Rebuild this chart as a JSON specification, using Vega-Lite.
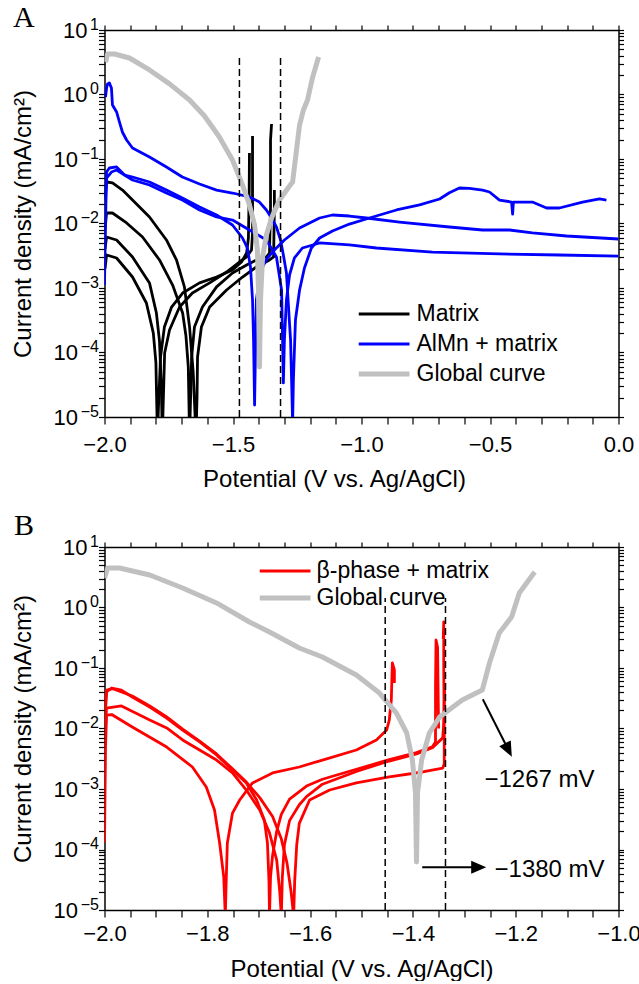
{
"$schema": "https://vega.github.io/schema/vega-lite/v6.json",
"background": "white",
"padding": {"left": 10.5, "top": 3, "right": 3, "bottom": 0},
"config": {
  "view": {"stroke": null},
  "font": "Liberation Sans",
  "axis": {"domainColor": "black", "domainWidth": 1.5, "tickColor": "black", "tickWidth": 1.2, "labelColor": "black", "labelFont": "Liberation Sans", "labelFontSize": 22, "titleFont": "Liberation Sans", "titleFontSize": 24, "titleFontWeight": "normal", "titleColor": "black", "grid": false, "labelFlush": false, "labelOverlap": false, "labelBound": false},
  "legend": {"labelFont": "Liberation Sans", "labelFontSize": 23, "labelColor": "black", "labelLimit": 300},
  "title": {"font": "Liberation Serif", "fontSize": 30, "fontWeight": "normal", "anchor": "start", "frame": "bounds", "color": "black"}
},
"datasets": {
"A_lines": [
{"s":"Matrix","c":"m1","i":0,"E":-1.998,"I":0.025},{"s":"Matrix","c":"m1","i":1,"E":-1.992,"I":0.044},{"s":"Matrix","c":"m1","i":2,"E":-1.969,"I":0.0425},{"s":"Matrix","c":"m1","i":3,"E":-1.93,"I":0.033},{"s":"Matrix","c":"m1","i":4,"E":-1.891,"I":0.0231},{"s":"Matrix","c":"m1","i":5,"E":-1.825,"I":0.01262},{"s":"Matrix","c":"m1","i":6,"E":-1.759,"I":0.00555},{"s":"Matrix","c":"m1","i":7,"E":-1.72,"I":0.00272},{"s":"Matrix","c":"m1","i":8,"E":-1.689,"I":0.00104},{"s":"Matrix","c":"m1","i":9,"E":-1.669,"I":0.000248},{"s":"Matrix","c":"m1","i":10,"E":-1.655,"I":0.00005},{"s":"Matrix","c":"m1","i":11,"E":-1.644,"I":0.000005},{"s":"Matrix","c":"m1","i":12,"E":-1.64,"I":0.00002},{"s":"Matrix","c":"m1","i":13,"E":-1.638,"I":0.000085},{"s":"Matrix","c":"m1","i":14,"E":-1.623,"I":0.000248},{"s":"Matrix","c":"m1","i":15,"E":-1.591,"I":0.000507},{"s":"Matrix","c":"m1","i":16,"E":-1.525,"I":0.00093},{"s":"Matrix","c":"m1","i":17,"E":-1.463,"I":0.00148},{"s":"Matrix","c":"m1","i":18,"E":-1.409,"I":0.00212},{"s":"Matrix","c":"m1","i":19,"E":-1.358,"I":0.00272},{"s":"Matrix","c":"m1","i":20,"E":-1.342,"I":0.00303},{"s":"Matrix","c":"m1","i":21,"E":-1.339,"I":0.018},{"s":"Matrix","c":"m1","i":22,"E":-1.339,"I":0.033},
{"s":"Matrix","c":"m2","i":0,"E":-1.998,"I":0.008},{"s":"Matrix","c":"m2","i":1,"E":-1.992,"I":0.01455},{"s":"Matrix","c":"m2","i":2,"E":-1.969,"I":0.01455},{"s":"Matrix","c":"m2","i":3,"E":-1.914,"I":0.01019},{"s":"Matrix","c":"m2","i":4,"E":-1.852,"I":0.00618},{"s":"Matrix","c":"m2","i":5,"E":-1.786,"I":0.00272},{"s":"Matrix","c":"m2","i":6,"E":-1.735,"I":0.00111},{"s":"Matrix","c":"m2","i":7,"E":-1.696,"I":0.000409},{"s":"Matrix","c":"m2","i":8,"E":-1.683,"I":0.00018},{"s":"Matrix","c":"m2","i":9,"E":-1.674,"I":0.00006},{"s":"Matrix","c":"m2","i":10,"E":-1.669,"I":0.000005},{"s":"Matrix","c":"m2","i":11,"E":-1.665,"I":0.00002},{"s":"Matrix","c":"m2","i":12,"E":-1.661,"I":0.000085},{"s":"Matrix","c":"m2","i":13,"E":-1.65,"I":0.000248},{"s":"Matrix","c":"m2","i":14,"E":-1.619,"I":0.000507},{"s":"Matrix","c":"m2","i":15,"E":-1.564,"I":0.00104},{"s":"Matrix","c":"m2","i":16,"E":-1.502,"I":0.00171},{"s":"Matrix","c":"m2","i":17,"E":-1.447,"I":0.00228},{"s":"Matrix","c":"m2","i":18,"E":-1.409,"I":0.00272},{"s":"Matrix","c":"m2","i":19,"E":-1.37,"I":0.00303},{"s":"Matrix","c":"m2","i":20,"E":-1.358,"I":0.00349},{"s":"Matrix","c":"m2","i":21,"E":-1.354,"I":0.018},{"s":"Matrix","c":"m2","i":22,"E":-1.354,"I":0.197},{"s":"Matrix","c":"m2","i":23,"E":-1.35,"I":0.349},
{"s":"Matrix","c":"m3","i":0,"E":-1.998,"I":0.004},{"s":"Matrix","c":"m3","i":1,"E":-1.992,"I":0.00618},{"s":"Matrix","c":"m3","i":2,"E":-1.953,"I":0.00555},{"s":"Matrix","c":"m3","i":3,"E":-1.891,"I":0.00303},{"s":"Matrix","c":"m3","i":4,"E":-1.825,"I":0.0012},{"s":"Matrix","c":"m3","i":5,"E":-1.798,"I":0.000409},{"s":"Matrix","c":"m3","i":6,"E":-1.786,"I":0.00015},{"s":"Matrix","c":"m3","i":7,"E":-1.779,"I":0.00003},{"s":"Matrix","c":"m3","i":8,"E":-1.775,"I":0.000005},{"s":"Matrix","c":"m3","i":9,"E":-1.772,"I":0.000014},{"s":"Matrix","c":"m3","i":10,"E":-1.766,"I":0.000098},{"s":"Matrix","c":"m3","i":11,"E":-1.747,"I":0.000223},{"s":"Matrix","c":"m3","i":12,"E":-1.708,"I":0.000507},{"s":"Matrix","c":"m3","i":13,"E":-1.658,"I":0.000836},{"s":"Matrix","c":"m3","i":14,"E":-1.591,"I":0.0012},{"s":"Matrix","c":"m3","i":15,"E":-1.525,"I":0.00177},{"s":"Matrix","c":"m3","i":16,"E":-1.475,"I":0.00253},{"s":"Matrix","c":"m3","i":17,"E":-1.447,"I":0.00303},{"s":"Matrix","c":"m3","i":18,"E":-1.428,"I":0.00388},{"s":"Matrix","c":"m3","i":19,"E":-1.424,"I":0.00713},{"s":"Matrix","c":"m3","i":20,"E":-1.424,"I":0.1},{"s":"Matrix","c":"m3","i":21,"E":-1.424,"I":0.228},
{"s":"Matrix","c":"m4","i":0,"E":-1.998,"I":0.002},{"s":"Matrix","c":"m4","i":1,"E":-1.992,"I":0.00325},{"s":"Matrix","c":"m4","i":2,"E":-1.953,"I":0.00292},{"s":"Matrix","c":"m4","i":3,"E":-1.891,"I":0.00148},{"s":"Matrix","c":"m4","i":4,"E":-1.837,"I":0.000585},{"s":"Matrix","c":"m4","i":5,"E":-1.81,"I":0.0002},{"s":"Matrix","c":"m4","i":6,"E":-1.8,"I":0.00007},{"s":"Matrix","c":"m4","i":7,"E":-1.794,"I":0.000005},{"s":"Matrix","c":"m4","i":8,"E":-1.79,"I":0.0000143},{"s":"Matrix","c":"m4","i":9,"E":-1.782,"I":0.000085},{"s":"Matrix","c":"m4","i":10,"E":-1.767,"I":0.000248},{"s":"Matrix","c":"m4","i":11,"E":-1.739,"I":0.000507},{"s":"Matrix","c":"m4","i":12,"E":-1.696,"I":0.000836},{"s":"Matrix","c":"m4","i":13,"E":-1.63,"I":0.0012},{"s":"Matrix","c":"m4","i":14,"E":-1.564,"I":0.00148},{"s":"Matrix","c":"m4","i":15,"E":-1.502,"I":0.0019},{"s":"Matrix","c":"m4","i":16,"E":-1.467,"I":0.00253},{"s":"Matrix","c":"m4","i":17,"E":-1.447,"I":0.00349},{"s":"Matrix","c":"m4","i":18,"E":-1.44,"I":0.006},{"s":"Matrix","c":"m4","i":19,"E":-1.437,"I":0.03},{"s":"Matrix","c":"m4","i":20,"E":-1.436,"I":0.124},
{"s":"AlMn + matrix","c":"a1","i":0,"E":-1.996,"I":0.914},{"s":"AlMn + matrix","c":"a1","i":1,"E":-1.992,"I":1.26},{"s":"AlMn + matrix","c":"a1","i":2,"E":-1.988,"I":1.46},{"s":"AlMn + matrix","c":"a1","i":3,"E":-1.981,"I":1.51},{"s":"AlMn + matrix","c":"a1","i":4,"E":-1.973,"I":1.26},{"s":"AlMn + matrix","c":"a1","i":5,"E":-1.969,"I":0.687},{"s":"AlMn + matrix","c":"a1","i":6,"E":-1.953,"I":0.536},{"s":"AlMn + matrix","c":"a1","i":7,"E":-1.942,"I":0.375},{"s":"AlMn + matrix","c":"a1","i":8,"E":-1.93,"I":0.26},{"s":"AlMn + matrix","c":"a1","i":9,"E":-1.914,"I":0.197},{"s":"AlMn + matrix","c":"a1","i":10,"E":-1.891,"I":0.148},{"s":"AlMn + matrix","c":"a1","i":11,"E":-1.825,"I":0.1074},{"s":"AlMn + matrix","c":"a1","i":12,"E":-1.759,"I":0.0752},{"s":"AlMn + matrix","c":"a1","i":13,"E":-1.697,"I":0.0526},{"s":"AlMn + matrix","c":"a1","i":14,"E":-1.63,"I":0.0409},{"s":"AlMn + matrix","c":"a1","i":15,"E":-1.564,"I":0.033},{"s":"AlMn + matrix","c":"a1","i":16,"E":-1.502,"I":0.0297},{"s":"AlMn + matrix","c":"a1","i":17,"E":-1.436,"I":0.0258},{"s":"AlMn + matrix","c":"a1","i":18,"E":-1.397,"I":0.0215},{"s":"AlMn + matrix","c":"a1","i":19,"E":-1.37,"I":0.0162},{"s":"AlMn + matrix","c":"a1","i":20,"E":-1.35,"I":0.01217},{"s":"AlMn + matrix","c":"a1","i":21,"E":-1.331,"I":0.00883},{"s":"AlMn + matrix","c":"a1","i":22,"E":-1.315,"I":0.00555},{"s":"AlMn + matrix","c":"a1","i":23,"E":-1.304,"I":0.00325},{"s":"AlMn + matrix","c":"a1","i":24,"E":-1.292,"I":0.00171},{"s":"AlMn + matrix","c":"a1","i":25,"E":-1.284,"I":0.000507},{"s":"AlMn + matrix","c":"a1","i":26,"E":-1.276,"I":0.000156},{"s":"AlMn + matrix","c":"a1","i":27,"E":-1.272,"I":0.0000375},{"s":"AlMn + matrix","c":"a1","i":28,"E":-1.268,"I":0.000008},{"s":"AlMn + matrix","c":"a1","i":29,"E":-1.265,"I":0.0000375},{"s":"AlMn + matrix","c":"a1","i":30,"E":-1.257,"I":0.000319},{"s":"AlMn + matrix","c":"a1","i":31,"E":-1.241,"I":0.00093},{"s":"AlMn + matrix","c":"a1","i":32,"E":-1.222,"I":0.00204},{"s":"AlMn + matrix","c":"a1","i":33,"E":-1.195,"I":0.00417},{"s":"AlMn + matrix","c":"a1","i":34,"E":-1.163,"I":0.00596},{"s":"AlMn + matrix","c":"a1","i":35,"E":-1.113,"I":0.00765},{"s":"AlMn + matrix","c":"a1","i":36,"E":-1.047,"I":0.0098},{"s":"AlMn + matrix","c":"a1","i":37,"E":-0.969,"I":0.01217},{"s":"AlMn + matrix","c":"a1","i":38,"E":-0.864,"I":0.0162},{"s":"AlMn + matrix","c":"a1","i":39,"E":-0.774,"I":0.0194},{"s":"AlMn + matrix","c":"a1","i":40,"E":-0.696,"I":0.024},{"s":"AlMn + matrix","c":"a1","i":41,"E":-0.658,"I":0.03},{"s":"AlMn + matrix","c":"a1","i":42,"E":-0.619,"I":0.0355},{"s":"AlMn + matrix","c":"a1","i":43,"E":-0.58,"I":0.035},{"s":"AlMn + matrix","c":"a1","i":44,"E":-0.529,"I":0.033},{"s":"AlMn + matrix","c":"a1","i":45,"E":-0.502,"I":0.0308},{"s":"AlMn + matrix","c":"a1","i":46,"E":-0.463,"I":0.0231},{"s":"AlMn + matrix","c":"a1","i":47,"E":-0.416,"I":0.0215},{"s":"AlMn + matrix","c":"a1","i":48,"E":-0.412,"I":0.014},{"s":"AlMn + matrix","c":"a1","i":49,"E":-0.409,"I":0.0215},{"s":"AlMn + matrix","c":"a1","i":50,"E":-0.335,"I":0.0215},{"s":"AlMn + matrix","c":"a1","i":51,"E":-0.28,"I":0.0174},{"s":"AlMn + matrix","c":"a1","i":52,"E":-0.23,"I":0.0174},{"s":"AlMn + matrix","c":"a1","i":53,"E":-0.14,"I":0.0215},{"s":"AlMn + matrix","c":"a1","i":54,"E":-0.074,"I":0.024},{"s":"AlMn + matrix","c":"a1","i":55,"E":-0.047,"I":0.0231},
{"s":"AlMn + matrix","c":"a2","i":0,"E":-2.0,"I":0.00111},{"s":"AlMn + matrix","c":"a2","i":1,"E":-1.996,"I":0.01},{"s":"AlMn + matrix","c":"a2","i":2,"E":-1.992,"I":0.0628},{"s":"AlMn + matrix","c":"a2","i":3,"E":-1.981,"I":0.0725},{"s":"AlMn + matrix","c":"a2","i":4,"E":-1.953,"I":0.0752},{"s":"AlMn + matrix","c":"a2","i":5,"E":-1.922,"I":0.0565},{"s":"AlMn + matrix","c":"a2","i":6,"E":-1.891,"I":0.0526},{"s":"AlMn + matrix","c":"a2","i":7,"E":-1.825,"I":0.044},{"s":"AlMn + matrix","c":"a2","i":8,"E":-1.759,"I":0.033},{"s":"AlMn + matrix","c":"a2","i":9,"E":-1.697,"I":0.0248},{"s":"AlMn + matrix","c":"a2","i":10,"E":-1.63,"I":0.018},{"s":"AlMn + matrix","c":"a2","i":11,"E":-1.564,"I":0.01355},{"s":"AlMn + matrix","c":"a2","i":12,"E":-1.502,"I":0.00948},{"s":"AlMn + matrix","c":"a2","i":13,"E":-1.463,"I":0.00596},{"s":"AlMn + matrix","c":"a2","i":14,"E":-1.444,"I":0.00417},{"s":"AlMn + matrix","c":"a2","i":15,"E":-1.432,"I":0.00212},{"s":"AlMn + matrix","c":"a2","i":16,"E":-1.424,"I":0.000651},{"s":"AlMn + matrix","c":"a2","i":17,"E":-1.42,"I":0.000156},{"s":"AlMn + matrix","c":"a2","i":18,"E":-1.416,"I":0.0000153},{"s":"AlMn + matrix","c":"a2","i":19,"E":-1.412,"I":0.000156},{"s":"AlMn + matrix","c":"a2","i":20,"E":-1.409,"I":0.000651},{"s":"AlMn + matrix","c":"a2","i":21,"E":-1.401,"I":0.00111},{"s":"AlMn + matrix","c":"a2","i":22,"E":-1.385,"I":0.00212},{"s":"AlMn + matrix","c":"a2","i":23,"E":-1.366,"I":0.00292},{"s":"AlMn + matrix","c":"a2","i":24,"E":-1.339,"I":0.00388},{"s":"AlMn + matrix","c":"a2","i":25,"E":-1.3,"I":0.00555},{"s":"AlMn + matrix","c":"a2","i":26,"E":-1.241,"I":0.00851},{"s":"AlMn + matrix","c":"a2","i":27,"E":-1.163,"I":0.01217},{"s":"AlMn + matrix","c":"a2","i":28,"E":-1.113,"I":0.01355},{"s":"AlMn + matrix","c":"a2","i":29,"E":-1.047,"I":0.01306},{"s":"AlMn + matrix","c":"a2","i":30,"E":-0.981,"I":0.01217},{"s":"AlMn + matrix","c":"a2","i":31,"E":-0.852,"I":0.01054},{"s":"AlMn + matrix","c":"a2","i":32,"E":-0.658,"I":0.00883},{"s":"AlMn + matrix","c":"a2","i":33,"E":-0.529,"I":0.00793},{"s":"AlMn + matrix","c":"a2","i":34,"E":-0.424,"I":0.00793},{"s":"AlMn + matrix","c":"a2","i":35,"E":-0.335,"I":0.00713},{"s":"AlMn + matrix","c":"a2","i":36,"E":-0.202,"I":0.0064},{"s":"AlMn + matrix","c":"a2","i":37,"E":0.0,"I":0.00575},
{"s":"AlMn + matrix","c":"a3","i":0,"E":-1.996,"I":0.0231},{"s":"AlMn + matrix","c":"a3","i":1,"E":-1.992,"I":0.0507},{"s":"AlMn + matrix","c":"a3","i":2,"E":-1.973,"I":0.0628},{"s":"AlMn + matrix","c":"a3","i":3,"E":-1.953,"I":0.0675},{"s":"AlMn + matrix","c":"a3","i":4,"E":-1.922,"I":0.0565},{"s":"AlMn + matrix","c":"a3","i":5,"E":-1.891,"I":0.0472},{"s":"AlMn + matrix","c":"a3","i":6,"E":-1.825,"I":0.0395},{"s":"AlMn + matrix","c":"a3","i":7,"E":-1.759,"I":0.0297},{"s":"AlMn + matrix","c":"a3","i":8,"E":-1.697,"I":0.0231},{"s":"AlMn + matrix","c":"a3","i":9,"E":-1.63,"I":0.0162},{"s":"AlMn + matrix","c":"a3","i":10,"E":-1.564,"I":0.01262},{"s":"AlMn + matrix","c":"a3","i":11,"E":-1.502,"I":0.01132},{"s":"AlMn + matrix","c":"a3","i":12,"E":-1.436,"I":0.00793},{"s":"AlMn + matrix","c":"a3","i":13,"E":-1.37,"I":0.00555},{"s":"AlMn + matrix","c":"a3","i":14,"E":-1.331,"I":0.00303},{"s":"AlMn + matrix","c":"a3","i":15,"E":-1.311,"I":0.00093},{"s":"AlMn + matrix","c":"a3","i":16,"E":-1.307,"I":0.000156},{"s":"AlMn + matrix","c":"a3","i":17,"E":-1.304,"I":0.0000337},{"s":"AlMn + matrix","c":"a3","i":18,"E":-1.3,"I":0.000156},{"s":"AlMn + matrix","c":"a3","i":19,"E":-1.292,"I":0.000651},{"s":"AlMn + matrix","c":"a3","i":20,"E":-1.28,"I":0.00159},{"s":"AlMn + matrix","c":"a3","i":21,"E":-1.261,"I":0.00292},{"s":"AlMn + matrix","c":"a3","i":22,"E":-1.23,"I":0.00417},{"s":"AlMn + matrix","c":"a3","i":23,"E":-1.163,"I":0.00499},{"s":"AlMn + matrix","c":"a3","i":24,"E":-1.047,"I":0.00465},{"s":"AlMn + matrix","c":"a3","i":25,"E":-0.942,"I":0.00417},{"s":"AlMn + matrix","c":"a3","i":26,"E":-0.724,"I":0.00361},{"s":"AlMn + matrix","c":"a3","i":27,"E":-0.463,"I":0.00337},{"s":"AlMn + matrix","c":"a3","i":28,"E":-0.23,"I":0.00325},{"s":"AlMn + matrix","c":"a3","i":29,"E":0.0,"I":0.00313}
],
"A_global": [
{"s":"Global curve","i":0,"E":-1.996,"I":3.19},{"s":"Global curve","i":1,"E":-1.988,"I":4.25},{"s":"Global curve","i":2,"E":-1.961,"I":4.25},{"s":"Global curve","i":3,"E":-1.903,"I":3.68},{"s":"Global curve","i":4,"E":-1.825,"I":2.4},{"s":"Global curve","i":5,"E":-1.747,"I":1.46},{"s":"Global curve","i":6,"E":-1.669,"I":0.822},{"s":"Global curve","i":7,"E":-1.611,"I":0.464},{"s":"Global curve","i":8,"E":-1.553,"I":0.219},{"s":"Global curve","i":9,"E":-1.502,"I":0.0964},{"s":"Global curve","i":10,"E":-1.463,"I":0.0395},{"s":"Global curve","i":11,"E":-1.436,"I":0.0194},{"s":"Global curve","i":12,"E":-1.416,"I":0.00948},{"s":"Global curve","i":13,"E":-1.405,"I":0.00388},{"s":"Global curve","i":14,"E":-1.401,"I":0.00093},{"s":"Global curve","i":15,"E":-1.397,"I":0.0000596},{"s":"Global curve","i":16,"E":-1.393,"I":0.00065},{"s":"Global curve","i":17,"E":-1.385,"I":0.00303},{"s":"Global curve","i":18,"E":-1.37,"I":0.00664},{"s":"Global curve","i":19,"E":-1.35,"I":0.01216},{"s":"Global curve","i":20,"E":-1.319,"I":0.0231},{"s":"Global curve","i":21,"E":-1.28,"I":0.0381},{"s":"Global curve","i":22,"E":-1.268,"I":0.044},{"s":"Global curve","i":23,"E":-1.253,"I":0.138},{"s":"Global curve","i":24,"E":-1.241,"I":0.336},{"s":"Global curve","i":25,"E":-1.226,"I":0.575},{"s":"Global curve","i":26,"E":-1.21,"I":0.822},{"s":"Global curve","i":27,"E":-1.191,"I":1.8},{"s":"Global curve","i":28,"E":-1.167,"I":3.81}
],
"B_lines": [
{"s":"β-phase + matrix","c":"r1","i":0,"E":-1.998,"I":0.02},{"s":"β-phase + matrix","c":"r1","i":1,"E":-1.996,"I":0.0401},{"s":"β-phase + matrix","c":"r1","i":2,"E":-1.986,"I":0.0467},{"s":"β-phase + matrix","c":"r1","i":3,"E":-1.967,"I":0.043},{"s":"β-phase + matrix","c":"r1","i":4,"E":-1.946,"I":0.0332},{"s":"β-phase + matrix","c":"r1","i":5,"E":-1.912,"I":0.0227},{"s":"β-phase + matrix","c":"r1","i":6,"E":-1.879,"I":0.0149},{"s":"β-phase + matrix","c":"r1","i":7,"E":-1.848,"I":0.00944},{"s":"β-phase + matrix","c":"r1","i":8,"E":-1.815,"I":0.00599},{"s":"β-phase + matrix","c":"r1","i":9,"E":-1.782,"I":0.00365},{"s":"β-phase + matrix","c":"r1","i":10,"E":-1.751,"I":0.00206},{"s":"β-phase + matrix","c":"r1","i":11,"E":-1.724,"I":0.00126},{"s":"β-phase + matrix","c":"r1","i":12,"E":-1.704,"I":0.000658},{"s":"β-phase + matrix","c":"r1","i":13,"E":-1.689,"I":0.000307},{"s":"β-phase + matrix","c":"r1","i":14,"E":-1.683,"I":0.000128},{"s":"β-phase + matrix","c":"r1","i":15,"E":-1.68,"I":0.00003},{"s":"β-phase + matrix","c":"r1","i":16,"E":-1.679,"I":0.000008},{"s":"β-phase + matrix","c":"r1","i":17,"E":-1.677,"I":0.000035},{"s":"β-phase + matrix","c":"r1","i":18,"E":-1.673,"I":0.00008},{"s":"β-phase + matrix","c":"r1","i":19,"E":-1.665,"I":0.0002},{"s":"β-phase + matrix","c":"r1","i":20,"E":-1.656,"I":0.00038},{"s":"β-phase + matrix","c":"r1","i":21,"E":-1.64,"I":0.00068},{"s":"β-phase + matrix","c":"r1","i":22,"E":-1.607,"I":0.00112},{"s":"β-phase + matrix","c":"r1","i":23,"E":-1.576,"I":0.00145},{"s":"β-phase + matrix","c":"r1","i":24,"E":-1.51,"I":0.00212},{"s":"β-phase + matrix","c":"r1","i":25,"E":-1.446,"I":0.00305},{"s":"β-phase + matrix","c":"r1","i":26,"E":-1.393,"I":0.004},{"s":"β-phase + matrix","c":"r1","i":27,"E":-1.362,"I":0.005},{"s":"β-phase + matrix","c":"r1","i":28,"E":-1.356,"I":0.006},{"s":"β-phase + matrix","c":"r1","i":29,"E":-1.356,"I":0.05},{"s":"β-phase + matrix","c":"r1","i":30,"E":-1.355,"I":0.29},{"s":"β-phase + matrix","c":"r1","i":31,"E":-1.352,"I":0.22},{"s":"β-phase + matrix","c":"r1","i":32,"E":-1.35,"I":0.01},
{"s":"β-phase + matrix","c":"r2","i":0,"E":-1.998,"I":0.025},{"s":"β-phase + matrix","c":"r2","i":1,"E":-1.996,"I":0.043},{"s":"β-phase + matrix","c":"r2","i":2,"E":-1.984,"I":0.0455},{"s":"β-phase + matrix","c":"r2","i":3,"E":-1.946,"I":0.0345},{"s":"β-phase + matrix","c":"r2","i":4,"E":-1.912,"I":0.0235},{"s":"β-phase + matrix","c":"r2","i":5,"E":-1.879,"I":0.0155},{"s":"β-phase + matrix","c":"r2","i":6,"E":-1.848,"I":0.0098},{"s":"β-phase + matrix","c":"r2","i":7,"E":-1.815,"I":0.0062},{"s":"β-phase + matrix","c":"r2","i":8,"E":-1.782,"I":0.0038},{"s":"β-phase + matrix","c":"r2","i":9,"E":-1.751,"I":0.00215},{"s":"β-phase + matrix","c":"r2","i":10,"E":-1.724,"I":0.0013},{"s":"β-phase + matrix","c":"r2","i":11,"E":-1.698,"I":0.00072},{"s":"β-phase + matrix","c":"r2","i":12,"E":-1.673,"I":0.00035},{"s":"β-phase + matrix","c":"r2","i":13,"E":-1.656,"I":0.00015},{"s":"β-phase + matrix","c":"r2","i":14,"E":-1.645,"I":0.00006},{"s":"β-phase + matrix","c":"r2","i":15,"E":-1.637,"I":0.00002},{"s":"β-phase + matrix","c":"r2","i":16,"E":-1.632,"I":0.000008},{"s":"β-phase + matrix","c":"r2","i":17,"E":-1.63,"I":0.00003},{"s":"β-phase + matrix","c":"r2","i":18,"E":-1.626,"I":0.00012},{"s":"β-phase + matrix","c":"r2","i":19,"E":-1.621,"I":0.00027},{"s":"β-phase + matrix","c":"r2","i":20,"E":-1.601,"I":0.000658},{"s":"β-phase + matrix","c":"r2","i":21,"E":-1.562,"I":0.000962},{"s":"β-phase + matrix","c":"r2","i":22,"E":-1.51,"I":0.00126},{"s":"β-phase + matrix","c":"r2","i":23,"E":-1.446,"I":0.00158},{"s":"β-phase + matrix","c":"r2","i":24,"E":-1.381,"I":0.00191},{"s":"β-phase + matrix","c":"r2","i":25,"E":-1.342,"I":0.00222},{"s":"β-phase + matrix","c":"r2","i":26,"E":-1.339,"I":0.0026},{"s":"β-phase + matrix","c":"r2","i":27,"E":-1.339,"I":0.009},{"s":"β-phase + matrix","c":"r2","i":28,"E":-1.34,"I":0.1},{"s":"β-phase + matrix","c":"r2","i":29,"E":-1.34,"I":0.576},{"s":"β-phase + matrix","c":"r2","i":30,"E":-1.341,"I":0.3},
{"s":"β-phase + matrix","c":"r3","i":0,"E":-1.998,"I":0.012},{"s":"β-phase + matrix","c":"r3","i":1,"E":-1.996,"I":0.0218},{"s":"β-phase + matrix","c":"r3","i":2,"E":-1.967,"I":0.0236},{"s":"β-phase + matrix","c":"r3","i":3,"E":-1.912,"I":0.0138},{"s":"β-phase + matrix","c":"r3","i":4,"E":-1.879,"I":0.0102},{"s":"β-phase + matrix","c":"r3","i":5,"E":-1.848,"I":0.00646},{"s":"β-phase + matrix","c":"r3","i":6,"E":-1.815,"I":0.00441},{"s":"β-phase + matrix","c":"r3","i":7,"E":-1.782,"I":0.00301},{"s":"β-phase + matrix","c":"r3","i":8,"E":-1.751,"I":0.00184},{"s":"β-phase + matrix","c":"r3","i":9,"E":-1.724,"I":0.000962},{"s":"β-phase + matrix","c":"r3","i":10,"E":-1.698,"I":0.00045},{"s":"β-phase + matrix","c":"r3","i":11,"E":-1.679,"I":0.000188},{"s":"β-phase + matrix","c":"r3","i":12,"E":-1.665,"I":0.000067},{"s":"β-phase + matrix","c":"r3","i":13,"E":-1.659,"I":0.00002},{"s":"β-phase + matrix","c":"r3","i":14,"E":-1.656,"I":0.000008},{"s":"β-phase + matrix","c":"r3","i":15,"E":-1.654,"I":0.000035},{"s":"β-phase + matrix","c":"r3","i":16,"E":-1.65,"I":0.00012},{"s":"β-phase + matrix","c":"r3","i":17,"E":-1.64,"I":0.0003},{"s":"β-phase + matrix","c":"r3","i":18,"E":-1.621,"I":0.00055},{"s":"β-phase + matrix","c":"r3","i":19,"E":-1.607,"I":0.00075},{"s":"β-phase + matrix","c":"r3","i":20,"E":-1.576,"I":0.0012},{"s":"β-phase + matrix","c":"r3","i":21,"E":-1.51,"I":0.00195},{"s":"β-phase + matrix","c":"r3","i":22,"E":-1.446,"I":0.0029},{"s":"β-phase + matrix","c":"r3","i":23,"E":-1.393,"I":0.0038},{"s":"β-phase + matrix","c":"r3","i":24,"E":-1.362,"I":0.0048},{"s":"β-phase + matrix","c":"r3","i":25,"E":-1.342,"I":0.007},{"s":"β-phase + matrix","c":"r3","i":26,"E":-1.34,"I":0.012},{"s":"β-phase + matrix","c":"r3","i":27,"E":-1.338,"I":0.0565},
{"s":"β-phase + matrix","c":"r4","i":0,"E":-2.0,"I":0.00013},{"s":"β-phase + matrix","c":"r4","i":1,"E":-1.998,"I":0.005},{"s":"β-phase + matrix","c":"r4","i":2,"E":-1.996,"I":0.0167},{"s":"β-phase + matrix","c":"r4","i":3,"E":-1.986,"I":0.017},{"s":"β-phase + matrix","c":"r4","i":4,"E":-1.946,"I":0.0106},{"s":"β-phase + matrix","c":"r4","i":5,"E":-1.879,"I":0.00494},{"s":"β-phase + matrix","c":"r4","i":6,"E":-1.829,"I":0.00231},{"s":"β-phase + matrix","c":"r4","i":7,"E":-1.802,"I":0.00108},{"s":"β-phase + matrix","c":"r4","i":8,"E":-1.786,"I":0.00045},{"s":"β-phase + matrix","c":"r4","i":9,"E":-1.776,"I":0.000128},{"s":"β-phase + matrix","c":"r4","i":10,"E":-1.768,"I":0.000035},{"s":"β-phase + matrix","c":"r4","i":11,"E":-1.765,"I":0.000008},{"s":"β-phase + matrix","c":"r4","i":12,"E":-1.763,"I":0.000035},{"s":"β-phase + matrix","c":"r4","i":13,"E":-1.761,"I":0.000128},{"s":"β-phase + matrix","c":"r4","i":14,"E":-1.751,"I":0.0004},{"s":"β-phase + matrix","c":"r4","i":15,"E":-1.737,"I":0.000658},{"s":"β-phase + matrix","c":"r4","i":16,"E":-1.712,"I":0.00126},{"s":"β-phase + matrix","c":"r4","i":17,"E":-1.673,"I":0.00184},{"s":"β-phase + matrix","c":"r4","i":18,"E":-1.621,"I":0.00231},{"s":"β-phase + matrix","c":"r4","i":19,"E":-1.576,"I":0.00301},{"s":"β-phase + matrix","c":"r4","i":20,"E":-1.51,"I":0.00441},{"s":"β-phase + matrix","c":"r4","i":21,"E":-1.471,"I":0.00646},{"s":"β-phase + matrix","c":"r4","i":22,"E":-1.451,"I":0.00944},{"s":"β-phase + matrix","c":"r4","i":23,"E":-1.446,"I":0.0138},{"s":"β-phase + matrix","c":"r4","i":24,"E":-1.442,"I":0.0296},{"s":"β-phase + matrix","c":"r4","i":25,"E":-1.44,"I":0.121},{"s":"β-phase + matrix","c":"r4","i":26,"E":-1.436,"I":0.0927},{"s":"β-phase + matrix","c":"r4","i":27,"E":-1.436,"I":0.0565}
],
"B_global": [
{"s":"Global curve","i":0,"E":-2.0,"I":3.07},{"s":"Global curve","i":1,"E":-1.994,"I":4.5},{"s":"Global curve","i":2,"E":-1.971,"I":4.5},{"s":"Global curve","i":3,"E":-1.912,"I":3.45},{"s":"Global curve","i":4,"E":-1.848,"I":2.1},{"s":"Global curve","i":5,"E":-1.782,"I":1.19},{"s":"Global curve","i":6,"E":-1.718,"I":0.576},{"s":"Global curve","i":7,"E":-1.679,"I":0.394},{"s":"Global curve","i":8,"E":-1.621,"I":0.214},{"s":"Global curve","i":9,"E":-1.576,"I":0.152},{"s":"Global curve","i":10,"E":-1.51,"I":0.0766},{"s":"Global curve","i":11,"E":-1.465,"I":0.0386},{"s":"Global curve","i":12,"E":-1.432,"I":0.018},{"s":"Global curve","i":13,"E":-1.412,"I":0.00843},{"s":"Global curve","i":14,"E":-1.401,"I":0.00302},{"s":"Global curve","i":15,"E":-1.395,"I":0.00086},{"s":"Global curve","i":16,"E":-1.393,"I":0.000062},{"s":"Global curve","i":17,"E":-1.391,"I":0.00086},{"s":"Global curve","i":18,"E":-1.383,"I":0.00302},{"s":"Global curve","i":19,"E":-1.368,"I":0.00843},{"s":"Global curve","i":20,"E":-1.348,"I":0.0155},{"s":"Global curve","i":21,"E":-1.304,"I":0.0296},{"s":"Global curve","i":22,"E":-1.265,"I":0.0433},{"s":"Global curve","i":23,"E":-1.251,"I":0.121},{"s":"Global curve","i":24,"E":-1.232,"I":0.379},{"s":"Global curve","i":25,"E":-1.208,"I":0.697},{"s":"Global curve","i":26,"E":-1.193,"I":1.74},{"s":"Global curve","i":27,"E":-1.163,"I":3.86}
]
},
"spacing": 130,
"bounds": "flush",
"resolve": {"scale": {"color": "independent"}, "legend": {"color": "independent"}},
"vconcat": [
{
  "title": {"text": "A", "offset": -17, "dx": 2},
  "width": 514, "height": 387,
  "resolve": {"axis": {"x": "independent", "y": "independent"}},
  "layer": [
    {
      "data": {"name": "A_lines"},
      "mark": {"type": "line", "clip": true, "strokeWidth": 2.8, "strokeJoin": "round"},
      "encoding": {
        "x": {"field": "E", "type": "quantitative", "scale": {"domain": [-2, 0], "nice": false, "zero": false},
          "axis": {"orient": "bottom", "title": "Potential (V vs. Ag/AgCl)", "titleX": 229.5, "values": [-2,-1.9,-1.8,-1.7,-1.6,-1.5,-1.4,-1.3,-1.2,-1.1,-1,-0.9,-0.8,-0.7,-0.6,-0.5,-0.4,-0.3,-0.2,-0.1,0],
            "labelExpr": "abs(datum.value*2-round(datum.value*2))<0.001 ? format(datum.value,'.1f') : ''",
            "tickSize": 7, "labelPadding": 10, "titlePadding": 12,
            "encode": {"ticks": {"update": {"y2": {"signal": "abs(datum.value*2-round(datum.value*2))<0.001 ? 7 : 4"}}}}}},
        "y": {"field": "I", "type": "quantitative", "scale": {"type": "log", "domain": [1e-5, 10], "nice": false},
          "axis": {"orient": "left", "title": "Current density (mA/cm²)", "values": [1e-5,2e-5,3e-5,4e-5,5e-5,6e-5,7e-5,8e-5,9e-5,1e-4,2e-4,3e-4,4e-4,5e-4,6e-4,7e-4,8e-4,9e-4,1e-3,2e-3,3e-3,4e-3,5e-3,6e-3,7e-3,8e-3,9e-3,1e-2,2e-2,3e-2,4e-2,5e-2,6e-2,7e-2,8e-2,9e-2,0.1,0.2,0.3,0.4,0.5,0.6,0.7,0.8,0.9,1,2,3,4,5,6,7,8,9,10],
            "labelExpr": "datum.value < 0.99 && abs(log(datum.value)/LN10-round(log(datum.value)/LN10))<0.01 ? '10' : ''",
            "tickSize": 6, "labelPadding": 21, "titlePadding": 18,
            "encode": {"ticks": {"update": {"x2": {"signal": "abs(log(datum.value)/LN10-round(log(datum.value)/LN10))<0.01 ? -6 : -4"}}}}}},
        "color": {"field": "s", "type": "nominal", "scale": {"domain": ["Matrix", "AlMn + matrix", "Global curve"], "range": ["#000000", "#0000ff", "#c0c0c0"]},
          "legend": {"orient": "none", "legendX": 254, "legendY": 269, "title": null, "padding": 0, "symbolType": "M-3,0H3", "symbolSize": 289, "symbolOffset": 14, "labelOffset": 21, "clipHeight": 30, "rowPadding": 0, "symbolStrokeWidth": 2.8,
            "encode": {"symbols": {"update": {"strokeWidth": {"signal": "datum.value === 'Global curve' ? 5 : 2.8"}}}}}},
        "detail": {"field": "c"},
        "order": {"field": "i", "type": "quantitative"}
      }
    },
    {
      "data": {"name": "A_global"},
      "mark": {"type": "line", "clip": true, "strokeWidth": 5, "strokeJoin": "round"},
      "encoding": {
        "x": {"field": "E", "type": "quantitative", "scale": {"domain": [-2, 0], "nice": false, "zero": false},
          "axis": {"orient": "top", "title": null, "labels": false, "values": [-2,-1.9,-1.8,-1.7,-1.6,-1.5,-1.4,-1.3,-1.2,-1.1,-1,-0.9,-0.8,-0.7,-0.6,-0.5,-0.4,-0.3,-0.2,-0.1,0],
            "encode": {"ticks": {"update": {"y2": {"signal": "abs(datum.value*2-round(datum.value*2))<0.001 ? 7 : 4"}}}}}},
        "y": {"field": "I", "type": "quantitative", "scale": {"type": "log", "domain": [1e-5, 10], "nice": false},
          "axis": {"orient": "right", "title": null, "labels": false, "values": [1e-5,2e-5,3e-5,4e-5,5e-5,6e-5,7e-5,8e-5,9e-5,1e-4,2e-4,3e-4,4e-4,5e-4,6e-4,7e-4,8e-4,9e-4,1e-3,2e-3,3e-3,4e-3,5e-3,6e-3,7e-3,8e-3,9e-3,1e-2,2e-2,3e-2,4e-2,5e-2,6e-2,7e-2,8e-2,9e-2,0.1,0.2,0.3,0.4,0.5,0.6,0.7,0.8,0.9,1,2,3,4,5,6,7,8,9,10],
            "encode": {"ticks": {"update": {"x2": {"signal": "abs(log(datum.value)/LN10-round(log(datum.value)/LN10))<0.01 ? -8 : -4"}}}}}},
        "color": {"field": "s", "type": "nominal", "scale": {"domain": ["Matrix", "AlMn + matrix", "Global curve"], "range": ["#000000", "#0000ff", "#c0c0c0"]}},
        "order": {"field": "i", "type": "quantitative"}
      }
    },
    {
      "data": {"name": "A_global"},
      "mark": {"type": "point", "opacity": 0},
      "encoding": {
        "x": {"field": "E", "type": "quantitative", "scale": {"domain": [-2, 0], "nice": false, "zero": false}, "axis": null},
        "y": {"field": "I", "type": "quantitative", "scale": {"type": "log", "domain": [1e-5, 10], "nice": false},
          "axis": {"orient": "left", "title": null, "ticks": false, "domain": false, "tickSize": 0, "values": [1, 10],
            "labelExpr": "'10'", "labelPadding": 17.5}}
      }
    },
    {
      "data": {"name": "A_global"},
      "mark": {"type": "point", "opacity": 0},
      "encoding": {
        "x": {"field": "E", "type": "quantitative", "scale": {"domain": [-2, 0], "nice": false, "zero": false}, "axis": null},
        "y": {"field": "I", "type": "quantitative", "scale": {"type": "log", "domain": [1e-5, 10], "nice": false},
          "axis": {"orient": "left", "title": null, "ticks": false, "domain": false, "tickSize": 0, "values": [1e-5,1e-4,1e-3,1e-2,0.1,1,10],
            "labelExpr": "format(round(log(datum.value)/LN10),'d')", "labelFontSize": 16, "labelPadding": 6, "labelOffset": -6}}
      }
    },
    {
      "data": {"values": [{"E": -1.475}, {"E": -1.315}]},
      "mark": {"type": "rule", "strokeDash": [7, 4], "strokeWidth": 1.5, "color": "black"},
      "encoding": {
        "x": {"field": "E", "type": "quantitative", "scale": {"domain": [-2, 0], "nice": false, "zero": false}, "axis": null},
        "y": {"datum": 1e-5, "type": "quantitative", "scale": {"type": "log", "domain": [1e-5, 10], "nice": false}, "axis": null},
        "y2": {"datum": 4.25}
      }
    }
  ]
},
{
  "title": {"text": "B", "offset": -8, "dx": 3},
  "width": 514, "height": 363,
  "resolve": {"axis": {"x": "independent", "y": "independent"}},
  "layer": [
    {
      "data": {"name": "B_lines"},
      "mark": {"type": "line", "clip": true, "strokeWidth": 2.8, "strokeJoin": "round"},
      "encoding": {
        "x": {"field": "E", "type": "quantitative", "scale": {"domain": [-2, -1], "nice": false, "zero": false},
          "axis": {"orient": "bottom", "title": "Potential (V vs. Ag/AgCl)", "values": [-2,-1.95,-1.9,-1.85,-1.8,-1.75,-1.7,-1.65,-1.6,-1.55,-1.5,-1.45,-1.4,-1.35,-1.3,-1.25,-1.2,-1.15,-1.1,-1.05,-1],
            "labelExpr": "abs(datum.value*5-round(datum.value*5))<0.001 ? format(datum.value,'.1f') : ''",
            "tickSize": 7, "labelPadding": 6, "titlePadding": 13,
            "encode": {"ticks": {"update": {"y2": {"signal": "abs(datum.value*5-round(datum.value*5))<0.001 ? 7 : 4"}}}}}},
        "y": {"field": "I", "type": "quantitative", "scale": {"type": "log", "domain": [1e-5, 10], "nice": false},
          "axis": {"orient": "left", "title": "Current density (mA/cm²)", "values": [1e-5,2e-5,3e-5,4e-5,5e-5,6e-5,7e-5,8e-5,9e-5,1e-4,2e-4,3e-4,4e-4,5e-4,6e-4,7e-4,8e-4,9e-4,1e-3,2e-3,3e-3,4e-3,5e-3,6e-3,7e-3,8e-3,9e-3,1e-2,2e-2,3e-2,4e-2,5e-2,6e-2,7e-2,8e-2,9e-2,0.1,0.2,0.3,0.4,0.5,0.6,0.7,0.8,0.9,1,2,3,4,5,6,7,8,9,10],
            "labelExpr": "datum.value < 0.99 && abs(log(datum.value)/LN10-round(log(datum.value)/LN10))<0.01 ? '10' : ''",
            "tickSize": 6, "labelPadding": 21, "titlePadding": 18,
            "encode": {"ticks": {"update": {"x2": {"signal": "abs(log(datum.value)/LN10-round(log(datum.value)/LN10))<0.01 ? -6 : -4"}}}}}},
        "color": {"field": "s", "type": "nominal", "scale": {"domain": ["β-phase + matrix", "Global curve"], "range": ["#ff0000", "#c0c0c0"]},
          "legend": {"orient": "none", "legendX": 155, "legendY": 10.5, "title": null, "padding": 0, "symbolType": "M-3,0H3", "symbolSize": 289, "symbolOffset": 14, "labelOffset": 20, "clipHeight": 27, "rowPadding": 0, "symbolStrokeWidth": 2.8,
            "encode": {"symbols": {"update": {"strokeWidth": {"signal": "datum.value === 'Global curve' ? 5 : 2.8"}}}}}},
        "detail": {"field": "c"},
        "order": {"field": "i", "type": "quantitative"}
      }
    },
    {
      "data": {"name": "B_global"},
      "mark": {"type": "line", "clip": true, "strokeWidth": 5, "strokeJoin": "round"},
      "encoding": {
        "x": {"field": "E", "type": "quantitative", "scale": {"domain": [-2, -1], "nice": false, "zero": false},
          "axis": {"orient": "top", "title": null, "labels": false, "values": [-2,-1.95,-1.9,-1.85,-1.8,-1.75,-1.7,-1.65,-1.6,-1.55,-1.5,-1.45,-1.4,-1.35,-1.3,-1.25,-1.2,-1.15,-1.1,-1.05,-1],
            "encode": {"ticks": {"update": {"y2": {"signal": "abs(datum.value*5-round(datum.value*5))<0.001 ? 7 : 4"}}}}}},
        "y": {"field": "I", "type": "quantitative", "scale": {"type": "log", "domain": [1e-5, 10], "nice": false},
          "axis": {"orient": "right", "title": null, "labels": false, "values": [1e-5,2e-5,3e-5,4e-5,5e-5,6e-5,7e-5,8e-5,9e-5,1e-4,2e-4,3e-4,4e-4,5e-4,6e-4,7e-4,8e-4,9e-4,1e-3,2e-3,3e-3,4e-3,5e-3,6e-3,7e-3,8e-3,9e-3,1e-2,2e-2,3e-2,4e-2,5e-2,6e-2,7e-2,8e-2,9e-2,0.1,0.2,0.3,0.4,0.5,0.6,0.7,0.8,0.9,1,2,3,4,5,6,7,8,9,10],
            "encode": {"ticks": {"update": {"x2": {"signal": "abs(log(datum.value)/LN10-round(log(datum.value)/LN10))<0.01 ? -8 : -4"}}}}}},
        "color": {"field": "s", "type": "nominal", "scale": {"domain": ["β-phase + matrix", "Global curve"], "range": ["#ff0000", "#c0c0c0"]}},
        "order": {"field": "i", "type": "quantitative"}
      }
    },
    {
      "data": {"name": "B_global"},
      "mark": {"type": "point", "opacity": 0},
      "encoding": {
        "x": {"field": "E", "type": "quantitative", "scale": {"domain": [-2, -1], "nice": false, "zero": false}, "axis": null},
        "y": {"field": "I", "type": "quantitative", "scale": {"type": "log", "domain": [1e-5, 10], "nice": false},
          "axis": {"orient": "left", "title": null, "ticks": false, "domain": false, "tickSize": 0, "values": [1, 10],
            "labelExpr": "'10'", "labelPadding": 17.5}}
      }
    },
    {
      "data": {"name": "B_global"},
      "mark": {"type": "point", "opacity": 0},
      "encoding": {
        "x": {"field": "E", "type": "quantitative", "scale": {"domain": [-2, -1], "nice": false, "zero": false}, "axis": null},
        "y": {"field": "I", "type": "quantitative", "scale": {"type": "log", "domain": [1e-5, 10], "nice": false},
          "axis": {"orient": "left", "title": null, "ticks": false, "domain": false, "tickSize": 0, "values": [1e-5,1e-4,1e-3,1e-2,0.1,1,10],
            "labelExpr": "format(round(log(datum.value)/LN10),'d')", "labelFontSize": 16, "labelPadding": 6, "labelOffset": -6}}
      }
    },
    {
      "data": {"values": [{"E": -1.4539}, {"E": -1.3366}]},
      "mark": {"type": "rule", "strokeDash": [7, 4], "strokeWidth": 1.5, "color": "black"},
      "encoding": {
        "x": {"field": "E", "type": "quantitative", "scale": {"domain": [-2, -1], "nice": false, "zero": false}, "axis": null},
        "y": {"datum": 1e-5, "type": "quantitative", "scale": {"type": "log", "domain": [1e-5, 10], "nice": false}, "axis": null},
        "y2": {"datum": 1.44}
      }
    },
    {
      "data": {"values": [{"E": -1.264, "I": 0.0304, "E2": -1.218, "I2": 0.00514}, {"E": -1.3819, "I": 0.0000508, "E2": -1.27, "I2": 0.0000508}]},
      "mark": {"type": "rule", "strokeWidth": 2, "color": "black"},
      "encoding": {
        "x": {"field": "E", "type": "quantitative", "scale": {"domain": [-2, -1], "nice": false, "zero": false}, "axis": null},
        "y": {"field": "I", "type": "quantitative", "scale": {"type": "log", "domain": [1e-5, 10], "nice": false}, "axis": null},
        "x2": {"field": "E2"},
        "y2": {"field": "I2"}
      }
    },
    {
      "data": {"values": [{"E": -1.2076, "I": 0.00342}]},
      "mark": {"type": "point", "shape": "M0,0L0.43,1L-0.43,1Z", "size": 900, "angle": 153.2, "filled": true, "color": "black", "opacity": 1},
      "encoding": {
        "x": {"field": "E", "type": "quantitative", "scale": {"domain": [-2, -1], "nice": false, "zero": false}, "axis": null},
        "y": {"field": "I", "type": "quantitative", "scale": {"type": "log", "domain": [1e-5, 10], "nice": false}, "axis": null}
      }
    },
    {
      "data": {"values": [{"E": -1.2574, "I": 0.0000508}]},
      "mark": {"type": "point", "shape": "M0,0L0.43,1L-0.43,1Z", "size": 900, "angle": 90, "filled": true, "color": "black", "opacity": 1},
      "encoding": {
        "x": {"field": "E", "type": "quantitative", "scale": {"domain": [-2, -1], "nice": false, "zero": false}, "axis": null},
        "y": {"field": "I", "type": "quantitative", "scale": {"type": "log", "domain": [1e-5, 10], "nice": false}, "axis": null}
      }
    },
    {
      "data": {"values": [{"E": -1.2607, "I": 0.00108, "t": "−1267 mV"}, {"E": -1.2412, "I": 0.0000351, "t": "−1380 mV"}]},
      "mark": {"type": "text", "align": "left", "baseline": "alphabetic", "font": "Liberation Sans", "fontSize": 24, "color": "black"},
      "encoding": {
        "x": {"field": "E", "type": "quantitative", "scale": {"domain": [-2, -1], "nice": false, "zero": false}, "axis": null},
        "y": {"field": "I", "type": "quantitative", "scale": {"type": "log", "domain": [1e-5, 10], "nice": false}, "axis": null},
        "text": {"field": "t"}
      }
    }
  ]
}
]
}
